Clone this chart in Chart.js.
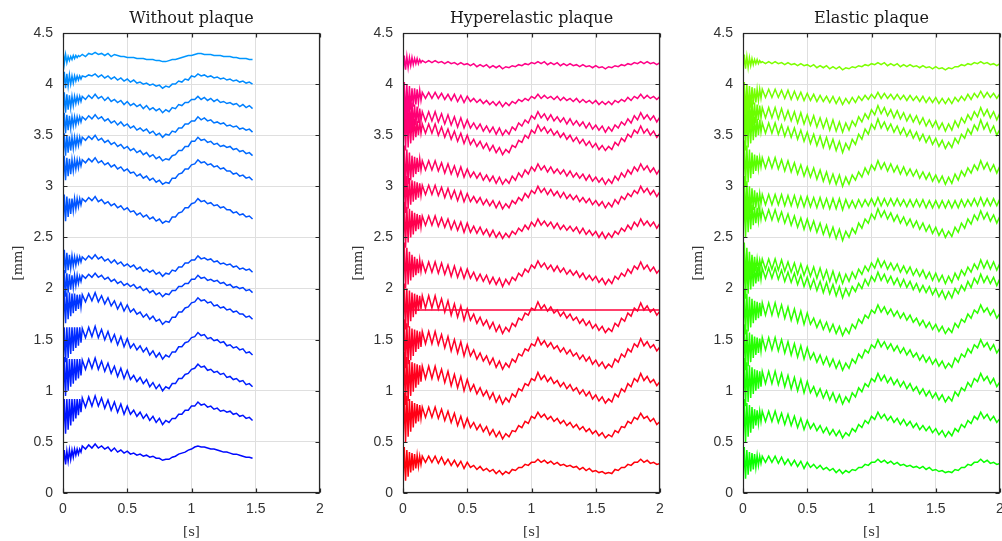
<!DOCTYPE html>
<html><head><meta charset="utf-8">
<script src="https://cdn.jsdelivr.net/npm/chart.js@4.4.1/dist/chart.umd.min.js"></script>
<style>
html,body{margin:0;padding:0;background:#fff;overflow:hidden;width:1002px;height:541px;}
canvas{position:absolute;top:0;}
</style></head><body>
<canvas id="c1" width="340" height="541" style="left:0px"></canvas>
<canvas id="c2" width="340" height="541" style="left:340px"></canvas>
<canvas id="c3" width="340" height="541" style="left:680px"></canvas>
<script>
// ---- data ----
const TIMES = [0,0.01,0.02,0.03,0.04,0.05,0.06,0.07,0.08,0.09,0.1,0.11,0.12,0.13,0.14,0.15,0.175,0.2,0.225,0.25,0.275,0.3,0.325,0.35,0.375,0.4,0.425,0.45,0.475,0.5,0.525,0.55,0.575,0.6,0.625,0.65,0.675,0.7,0.725,0.75,0.775,0.8,0.825,0.85,0.875,0.9,0.925,0.95,0.975,1,1.025,1.05,1.075,1.1,1.125,1.15,1.175,1.2,1.225,1.25,1.275,1.3,1.325,1.35,1.375,1.4,1.425,1.45,1.475,1.5,1.525,1.55,1.575,1.6,1.625,1.65,1.675,1.7,1.725,1.75,1.775,1.8,1.825,1.85,1.875,1.9,1.925,1.95,1.975,2];
const FLAT_T = [0.02, 2];
const X_TICKS = [0,0.5,1,1.5,2];
const X_TICK_LABELS = ['0','0.5','1','1.5','2'];
const Y_TICKS = [0,0.5,1,1.5,2,2.5,3,3.5,4,4.5];
const Y_TICK_LABELS = ['0','0.5','1','1.5','2','2.5','3','3.5','4','4.5'];
const TITLES = ['Without plaque','Hyperelastic plaque','Elastic plaque'];
const X_LABEL = '[s]';
const Y_LABEL = '[mm]';

// Without plaque (blue), top to bottom
const blue01 = [4.34,4.20,4.29,4.21,4.27,4.23,4.27,4.24,4.28,4.25,4.28,4.26,4.28,4.27,4.28, 4.29,4.27,4.30,4.29,4.31, 4.29,4.30,4.28,4.30,4.27,4.29,4.28,4.27,4.27,4.26,4.26,4.26,4.25,4.25,4.25,4.24,4.24,4.24,4.23,4.23,4.22,4.22, 4.23,4.24,4.24,4.25,4.26,4.27,4.28,4.28,4.29,4.30, 4.30,4.29,4.29,4.29,4.28,4.28,4.28,4.27,4.27,4.27,4.26,4.26,4.25,4.25,4.25,4.24,4.24];
const blue02 = [3.95,4.12,3.96,4.10,3.98,4.09,4.00,4.08,4.01,4.08,4.03,4.08,4.04,4.08,4.05, 4.08,4.07,4.09,4.08,4.10, 4.07,4.09,4.06,4.08,4.05,4.07,4.04,4.06,4.03,4.05,4.02,4.04,4.01,4.02,4.00,4.01,3.99,4.00,3.98,3.99,3.96,3.98, 3.97,4.00,4.00,4.03,4.02,4.05,4.04,4.08,4.07,4.10, 4.08,4.09,4.07,4.08,4.06,4.07,4.05,4.06,4.04,4.05,4.03,4.04,4.02,4.03,4.01,4.02,4.00];
const blue03 = [3.70,3.92,3.72,3.90,3.75,3.89,3.77,3.88,3.79,3.88,3.81,3.88,3.82,3.88,3.83, 3.88,3.85,3.89,3.86,3.90, 3.86,3.88,3.84,3.87,3.83,3.85,3.82,3.84,3.80,3.83,3.79,3.81,3.78,3.80,3.76,3.79,3.75,3.77,3.74,3.76,3.72,3.75, 3.73,3.77,3.76,3.80,3.79,3.82,3.82,3.85,3.85,3.88, 3.85,3.87,3.84,3.86,3.83,3.85,3.82,3.83,3.81,3.82,3.80,3.81,3.78,3.80,3.77,3.79,3.76];
const blue04 = [3.50,3.72,3.52,3.70,3.55,3.69,3.57,3.68,3.59,3.68,3.60,3.68,3.62,3.68,3.63, 3.68,3.65,3.69,3.66,3.70, 3.66,3.68,3.64,3.66,3.62,3.64,3.60,3.63,3.59,3.61,3.57,3.59,3.55,3.57,3.54,3.56,3.52,3.54,3.50,3.52,3.48,3.51, 3.50,3.54,3.53,3.57,3.57,3.61,3.61,3.64,3.64,3.68, 3.65,3.67,3.64,3.65,3.62,3.63,3.61,3.62,3.59,3.60,3.58,3.59,3.56,3.57,3.55,3.56,3.53];
const blue05 = [3.28,3.52,3.30,3.50,3.33,3.49,3.35,3.48,3.37,3.48,3.39,3.48,3.40,3.48,3.42, 3.48,3.45,3.49,3.46,3.50, 3.45,3.47,3.43,3.45,3.41,3.43,3.39,3.41,3.37,3.39,3.35,3.37,3.33,3.35,3.31,3.33,3.29,3.31,3.27,3.29,3.25,3.27, 3.26,3.30,3.31,3.35,3.35,3.39,3.39,3.44,3.44,3.48, 3.45,3.46,3.43,3.44,3.41,3.42,3.39,3.40,3.38,3.39,3.36,3.37,3.34,3.35,3.32,3.33,3.30];
const blue06 = [3.02,3.30,3.06,3.28,3.10,3.27,3.12,3.26,3.15,3.26,3.17,3.26,3.18,3.26,3.20, 3.26,3.23,3.27,3.24,3.28, 3.23,3.25,3.21,3.23,3.19,3.21,3.17,3.19,3.15,3.17,3.13,3.14,3.10,3.12,3.08,3.10,3.06,3.08,3.04,3.06,3.02,3.04, 3.03,3.08,3.08,3.12,3.13,3.17,3.17,3.21,3.22,3.26, 3.23,3.24,3.21,3.22,3.19,3.20,3.17,3.18,3.15,3.15,3.12,3.13,3.10,3.11,3.08,3.09,3.06];
const blue07 = [2.62,2.92,2.66,2.90,2.70,2.88,2.73,2.88,2.76,2.88,2.78,2.88,2.80,2.88,2.82, 2.88,2.85,2.89,2.86,2.90, 2.85,2.87,2.83,2.85,2.81,2.83,2.79,2.81,2.77,2.79,2.75,2.76,2.72,2.74,2.70,2.72,2.68,2.70,2.66,2.68,2.64,2.66, 2.65,2.70,2.70,2.74,2.75,2.79,2.79,2.83,2.84,2.88, 2.85,2.86,2.83,2.84,2.81,2.82,2.79,2.80,2.77,2.77,2.74,2.75,2.72,2.73,2.70,2.71,2.68];
const blue08 = [2.12,2.38,2.15,2.35,2.18,2.33,2.20,2.32,2.22,2.31,2.23,2.31,2.25,2.31,2.26, 2.31,2.28,2.32,2.29,2.33, 2.29,2.31,2.27,2.29,2.25,2.28,2.24,2.26,2.22,2.24,2.21,2.23,2.19,2.21,2.17,2.19,2.16,2.18,2.14,2.16,2.12,2.15, 2.14,2.18,2.17,2.21,2.21,2.25,2.25,2.28,2.28,2.32, 2.29,2.30,2.28,2.29,2.26,2.27,2.24,2.25,2.23,2.24,2.21,2.22,2.19,2.20,2.18,2.19,2.16];
const blue09 = [1.88,2.18,1.92,2.15,1.96,2.14,1.99,2.13,2.01,2.13,2.03,2.13,2.05,2.12,2.07, 2.13,2.10,2.14,2.11,2.15, 2.11,2.13,2.09,2.11,2.07,2.09,2.05,2.07,2.03,2.05,2.02,2.04,2.00,2.02,1.98,2.00,1.96,1.98,1.94,1.96,1.92,1.95, 1.94,1.98,1.98,2.02,2.02,2.05,2.05,2.09,2.09,2.13, 2.10,2.11,2.08,2.09,2.07,2.08,2.05,2.06,2.03,2.04,2.01,2.02,2.00,2.01,1.98,1.99,1.96];
const blue10 = [1.62,1.98,1.66,1.96,1.70,1.96,1.73,1.95,1.76,1.95,1.78,1.94,1.80,1.94,1.82, 1.94,1.87,1.95,1.88,1.96, 1.87,1.93,1.85,1.91,1.83,1.88,1.80,1.86,1.78,1.84,1.77,1.80,1.75,1.77,1.72,1.75,1.70,1.73,1.68,1.70,1.65,1.68, 1.67,1.72,1.72,1.77,1.77,1.81,1.82,1.86,1.87,1.91, 1.88,1.89,1.86,1.87,1.83,1.84,1.81,1.82,1.79,1.80,1.77,1.78,1.75,1.75,1.72,1.73,1.70];
const blue11 = [1.22,1.62,1.28,1.62,1.32,1.62,1.36,1.62,1.39,1.62,1.42,1.62,1.44,1.62,1.47, 1.61,1.52,1.62,1.53,1.63, 1.52,1.60,1.50,1.58,1.48,1.55,1.45,1.53,1.43,1.51,1.42,1.46,1.40,1.44,1.38,1.42,1.35,1.39,1.33,1.37,1.31,1.35, 1.33,1.38,1.38,1.43,1.43,1.47,1.48,1.52,1.53,1.57, 1.54,1.55,1.51,1.52,1.49,1.50,1.47,1.48,1.44,1.45,1.42,1.43,1.40,1.41,1.37,1.38,1.35];
const blue12 = [0.88,1.33,0.95,1.32,1.00,1.31,1.04,1.31,1.07,1.31,1.10,1.31,1.12,1.31,1.15, 1.30,1.21,1.31,1.22,1.32, 1.21,1.29,1.19,1.27,1.17,1.24,1.14,1.22,1.12,1.20,1.11,1.15,1.09,1.13,1.07,1.11,1.04,1.08,1.02,1.06,1.00,1.04, 1.02,1.07,1.07,1.12,1.12,1.16,1.17,1.21,1.22,1.26, 1.23,1.24,1.20,1.21,1.18,1.19,1.16,1.17,1.13,1.14,1.11,1.12,1.09,1.10,1.06,1.07,1.04];
const blue13 = [0.55,0.92,0.58,0.92,0.62,0.92,0.66,0.92,0.70,0.92,0.73,0.92,0.76,0.92,0.79, 0.93,0.84,0.94,0.85,0.95, 0.85,0.93,0.83,0.91,0.81,0.89,0.79,0.87,0.77,0.85,0.77,0.81,0.75,0.79,0.73,0.77,0.71,0.75,0.69,0.73,0.67,0.71, 0.69,0.73,0.73,0.77,0.77,0.81,0.81,0.85,0.85,0.89, 0.86,0.87,0.84,0.85,0.82,0.83,0.80,0.81,0.79,0.80,0.77,0.78,0.75,0.76,0.73,0.74,0.71];
const blue14 = [0.26,0.42,0.28,0.41,0.31,0.42,0.33,0.42,0.35,0.43,0.37,0.43,0.38,0.43,0.40, 0.46,0.43,0.47,0.44,0.48, 0.44,0.46,0.43,0.45,0.41,0.44,0.40,0.42,0.39,0.41,0.38,0.39,0.37,0.38,0.36,0.37,0.35,0.36,0.34,0.34,0.32,0.33, 0.33,0.35,0.36,0.38,0.39,0.40,0.42,0.43,0.45,0.46, 0.45,0.45,0.44,0.43,0.43,0.42,0.41,0.40,0.40,0.39,0.38,0.38,0.37,0.36,0.35,0.35,0.34];

// Hyperelastic plaque (pink to red), top to bottom
const red01 = [4.10,4.28,4.14,4.27,4.16,4.26,4.18,4.26,4.19,4.25,4.20,4.25,4.20,4.24,4.21, 4.23,4.21,4.23,4.21,4.23, 4.21,4.22,4.20,4.22,4.20,4.21,4.19,4.21,4.19,4.20,4.18,4.20,4.17,4.19,4.17,4.19,4.16,4.18,4.16,4.18,4.15,4.17, 4.16,4.18,4.17,4.19,4.18,4.20,4.19,4.21,4.20,4.22, 4.20,4.22,4.19,4.21,4.19,4.21,4.18,4.20,4.18,4.20,4.18,4.19,4.17,4.19,4.17,4.18,4.16,4.18,4.16,4.17,4.15,4.17, 4.16,4.18,4.17,4.19,4.18,4.20,4.19,4.21,4.20,4.22, 4.20,4.22,4.20,4.21,4.19,4.21];
const red02 = [3.70,4.02,3.66,4.00,3.72,3.98,3.75,3.96,3.78,3.96,3.80,3.95,3.82,3.94,3.84, 3.92,3.86,3.92,3.86,3.92, 3.86,3.91,3.85,3.90,3.84,3.90,3.83,3.89,3.82,3.88,3.83,3.86,3.82,3.85,3.81,3.84,3.80,3.83,3.79,3.83,3.78,3.82, 3.79,3.83,3.81,3.85,3.83,3.86,3.84,3.88,3.86,3.90, 3.86,3.89,3.86,3.88,3.85,3.88,3.84,3.87,3.84,3.86,3.83,3.86,3.82,3.85,3.82,3.84,3.81,3.84,3.80,3.83,3.80,3.83, 3.80,3.84,3.82,3.85,3.83,3.87,3.84,3.88,3.86,3.90, 3.86,3.89,3.86,3.88,3.85,3.88];
const red03 = [3.45,3.95,3.50,3.90,3.48,3.85,3.55,3.82,3.58,3.80,3.60,3.78,3.62,3.76,3.64, 3.73,3.64,3.73,3.64,3.73, 3.63,3.71,3.61,3.70,3.60,3.68,3.58,3.67,3.57,3.65,3.57,3.62,3.56,3.61,3.54,3.59,3.53,3.58,3.51,3.57,3.50,3.55, 3.51,3.58,3.55,3.62,3.59,3.65,3.62,3.69,3.66,3.73, 3.67,3.71,3.65,3.70,3.64,3.68,3.63,3.67,3.61,3.66,3.60,3.64,3.59,3.63,3.57,3.62,3.56,3.60,3.55,3.59,3.53,3.58, 3.54,3.60,3.57,3.63,3.60,3.66,3.62,3.69,3.65,3.72, 3.66,3.70,3.65,3.69,3.63,3.68];
const red04 = [3.30,3.80,3.35,3.75,3.38,3.70,3.42,3.68,3.45,3.66,3.48,3.64,3.50,3.63,3.52, 3.61,3.52,3.61,3.52,3.61, 3.50,3.58,3.48,3.56,3.46,3.54,3.44,3.52,3.42,3.50,3.41,3.46,3.39,3.44,3.37,3.42,3.35,3.40,3.33,3.38,3.31,3.36, 3.33,3.40,3.38,3.45,3.43,3.50,3.47,3.55,3.52,3.60, 3.54,3.58,3.52,3.56,3.50,3.54,3.48,3.52,3.46,3.50,3.44,3.48,3.42,3.46,3.40,3.44,3.38,3.42,3.36,3.40,3.35,3.39, 3.36,3.43,3.40,3.47,3.44,3.51,3.48,3.55,3.52,3.59, 3.52,3.56,3.50,3.54,3.48,3.52];
const red05 = [2.92,3.40,2.98,3.36,3.02,3.33,3.06,3.30,3.09,3.29,3.12,3.28,3.14,3.27,3.16, 3.25,3.16,3.25,3.16,3.25, 3.15,3.23,3.13,3.22,3.12,3.20,3.10,3.19,3.09,3.17,3.09,3.14,3.08,3.13,3.06,3.11,3.05,3.10,3.03,3.09,3.02,3.07, 3.03,3.10,3.06,3.13,3.09,3.16,3.12,3.19,3.15,3.22, 3.16,3.20,3.14,3.19,3.13,3.17,3.12,3.16,3.10,3.15,3.09,3.13,3.08,3.12,3.06,3.11,3.05,3.09,3.04,3.08,3.02,3.07, 3.03,3.10,3.06,3.13,3.09,3.16,3.12,3.19,3.15,3.22, 3.16,3.20,3.14,3.18,3.12,3.17];
const red06 = [2.70,3.15,2.74,3.10,2.78,3.08,2.82,3.06,2.85,3.05,2.87,3.04,2.89,3.03,2.91, 3.01,2.92,3.01,2.92,3.01, 2.91,2.99,2.89,2.98,2.88,2.96,2.86,2.95,2.85,2.93,2.85,2.90,2.84,2.89,2.82,2.87,2.81,2.86,2.79,2.85,2.78,2.83, 2.79,2.86,2.83,2.89,2.86,2.93,2.89,2.96,2.93,3.00, 2.94,2.98,2.92,2.97,2.91,2.95,2.89,2.94,2.88,2.92,2.87,2.91,2.85,2.89,2.84,2.88,2.82,2.86,2.81,2.85,2.79,2.84, 2.80,2.87,2.83,2.90,2.87,2.93,2.90,2.96,2.93,3.00, 2.94,2.98,2.92,2.96,2.90,2.95];
const red07 = [2.35,2.85,2.40,2.80,2.45,2.78,2.50,2.76,2.53,2.74,2.56,2.73,2.58,2.72,2.60, 2.71,2.62,2.71,2.62,2.71, 2.61,2.69,2.60,2.68,2.58,2.66,2.57,2.65,2.55,2.64,2.55,2.61,2.54,2.60,2.53,2.58,2.51,2.57,2.50,2.55,2.49,2.54, 2.50,2.56,2.53,2.59,2.56,2.62,2.58,2.65,2.61,2.68, 2.62,2.66,2.61,2.65,2.59,2.64,2.58,2.62,2.57,2.61,2.56,2.60,2.54,2.59,2.53,2.57,2.52,2.56,2.50,2.55,2.49,2.54, 2.50,2.56,2.53,2.59,2.56,2.62,2.58,2.65,2.61,2.68, 2.62,2.66,2.61,2.65,2.59,2.64];
const red08 = [1.95,2.45,2.00,2.40,2.04,2.36,2.08,2.33,2.11,2.31,2.13,2.29,2.15,2.28,2.17, 2.26,2.16,2.26,2.16,2.26, 2.15,2.25,2.14,2.23,2.12,2.22,2.11,2.20,2.10,2.19,2.10,2.16,2.08,2.14,2.07,2.13,2.05,2.11,2.04,2.10,2.02,2.09, 2.04,2.11,2.08,2.15,2.12,2.19,2.16,2.23,2.20,2.27, 2.21,2.25,2.19,2.23,2.17,2.22,2.16,2.20,2.14,2.18,2.13,2.17,2.11,2.15,2.09,2.13,2.08,2.12,2.06,2.10,2.04,2.09, 2.05,2.12,2.09,2.15,2.12,2.19,2.15,2.22,2.19,2.26, 2.19,2.23,2.17,2.21,2.15,2.19];
const red09 = [1.79,1.79];
const red10 = [1.55,2.05,1.60,2.00,1.62,1.98,1.68,1.96,1.72,1.95,1.75,1.94,1.78,1.93,1.80, 1.93,1.81,1.93,1.81,1.93, 1.80,1.90,1.77,1.88,1.74,1.85,1.72,1.83,1.69,1.80,1.69,1.75,1.66,1.72,1.64,1.69,1.61,1.67,1.58,1.64,1.56,1.62, 1.58,1.66,1.63,1.71,1.69,1.76,1.74,1.81,1.79,1.87, 1.80,1.84,1.78,1.82,1.76,1.79,1.73,1.77,1.71,1.75,1.69,1.72,1.66,1.70,1.64,1.68,1.61,1.65,1.59,1.63,1.57,1.61, 1.58,1.66,1.63,1.71,1.68,1.76,1.73,1.81,1.78,1.86, 1.79,1.83,1.77,1.80,1.74,1.78];
const red11 = [1.15,1.70,1.22,1.66,1.26,1.63,1.30,1.61,1.34,1.60,1.38,1.59,1.41,1.58,1.43, 1.58,1.46,1.58,1.46,1.58, 1.45,1.55,1.42,1.53,1.39,1.50,1.37,1.48,1.34,1.45,1.34,1.40,1.31,1.37,1.29,1.34,1.26,1.32,1.23,1.29,1.21,1.27, 1.23,1.31,1.28,1.36,1.34,1.41,1.39,1.46,1.44,1.52, 1.45,1.49,1.43,1.47,1.41,1.44,1.38,1.42,1.36,1.40,1.34,1.37,1.31,1.35,1.29,1.33,1.26,1.30,1.24,1.28,1.22,1.26, 1.23,1.31,1.28,1.36,1.33,1.41,1.38,1.46,1.43,1.51, 1.44,1.48,1.42,1.45,1.39,1.43];
const red12 = [0.80,1.38,0.86,1.33,0.90,1.30,0.95,1.28,0.99,1.27,1.03,1.26,1.06,1.25,1.09, 1.24,1.12,1.24,1.12,1.24, 1.11,1.21,1.08,1.19,1.05,1.16,1.03,1.14,1.00,1.11,1.00,1.06,0.97,1.03,0.95,1.00,0.92,0.98,0.89,0.95,0.87,0.93, 0.89,0.97,0.94,1.02,1.00,1.07,1.05,1.12,1.10,1.18, 1.11,1.15,1.09,1.13,1.07,1.10,1.04,1.08,1.02,1.06,1.00,1.03,0.97,1.01,0.95,0.99,0.92,0.96,0.90,0.94,0.88,0.92, 0.89,0.97,0.94,1.02,0.99,1.07,1.04,1.12,1.09,1.17, 1.10,1.14,1.08,1.11,1.05,1.09];
const red13 = [0.45,0.98,0.50,0.95,0.55,0.92,0.60,0.90,0.64,0.88,0.68,0.87,0.70,0.86,0.73, 0.84,0.74,0.84,0.74,0.84, 0.73,0.82,0.71,0.80,0.69,0.78,0.66,0.75,0.64,0.73,0.64,0.69,0.62,0.67,0.60,0.65,0.57,0.62,0.55,0.60,0.53,0.58, 0.55,0.61,0.60,0.66,0.64,0.70,0.68,0.75,0.73,0.79, 0.74,0.77,0.72,0.75,0.70,0.73,0.68,0.71,0.66,0.69,0.64,0.67,0.62,0.65,0.60,0.63,0.58,0.61,0.56,0.59,0.54,0.57, 0.55,0.61,0.59,0.65,0.64,0.70,0.68,0.74,0.72,0.78, 0.73,0.75,0.70,0.73,0.67,0.70];
const red14 = [0.08,0.45,0.12,0.42,0.16,0.40,0.20,0.39,0.22,0.38,0.24,0.37,0.26,0.36,0.28, 0.36,0.30,0.36,0.30,0.36, 0.29,0.35,0.28,0.33,0.27,0.32,0.26,0.31,0.24,0.30,0.25,0.27,0.23,0.26,0.22,0.24,0.21,0.23,0.19,0.22,0.18,0.21, 0.19,0.23,0.22,0.25,0.25,0.28,0.27,0.30,0.30,0.33, 0.30,0.32,0.29,0.31,0.28,0.30,0.27,0.28,0.26,0.27,0.25,0.26,0.23,0.25,0.22,0.24,0.21,0.22,0.20,0.21,0.19,0.20, 0.19,0.23,0.22,0.25,0.25,0.28,0.27,0.30,0.30,0.33, 0.30,0.32,0.29,0.30,0.28,0.29];

// Elastic plaque (yellow-green to green), top to bottom
const green01 = [4.12,4.29,4.15,4.27,4.16,4.26,4.18,4.25,4.19,4.24,4.20,4.24,4.20,4.23,4.21, 4.22,4.20,4.22,4.20,4.22, 4.20,4.21,4.19,4.21,4.19,4.20,4.18,4.20,4.18,4.19,4.17,4.19,4.16,4.18,4.16,4.18,4.15,4.17,4.15,4.17,4.14,4.16, 4.15,4.17,4.16,4.18,4.17,4.19,4.18,4.20,4.19,4.21, 4.19,4.21,4.18,4.20,4.18,4.20,4.17,4.19,4.17,4.19,4.17,4.18,4.16,4.18,4.16,4.17,4.15,4.17,4.15,4.16,4.14,4.16, 4.15,4.17,4.17,4.19,4.18,4.20,4.19,4.21,4.20,4.22, 4.20,4.21,4.19,4.20,4.18,4.20];
const green02 = [3.65,4.02,3.70,4.00,3.74,3.98,3.77,3.97,3.80,3.96,3.82,3.95,3.84,3.95,3.86, 3.95,3.87,3.95,3.87,3.95, 3.87,3.94,3.86,3.94,3.85,3.93,3.85,3.92,3.84,3.91,3.84,3.90,3.83,3.89,3.83,3.88,3.82,3.88,3.81,3.87,3.80,3.86, 3.81,3.87,3.82,3.88,3.84,3.89,3.85,3.90,3.86,3.92, 3.86,3.91,3.86,3.90,3.85,3.90,3.85,3.89,3.84,3.89,3.84,3.88,3.83,3.88,3.82,3.87,3.82,3.87,3.81,3.86,3.81,3.86, 3.81,3.87,3.83,3.88,3.84,3.90,3.85,3.91,3.87,3.93, 3.87,3.92,3.87,3.91,3.86,3.91];
const green03 = [3.45,3.95,3.50,3.92,3.52,3.88,3.56,3.85,3.60,3.82,3.62,3.80,3.65,3.79,3.67, 3.77,3.67,3.77,3.67,3.77, 3.66,3.76,3.65,3.74,3.64,3.73,3.62,3.72,3.61,3.70,3.60,3.69,3.58,3.67,3.57,3.66,3.55,3.65,3.54,3.63,3.53,3.62, 3.55,3.64,3.59,3.68,3.63,3.71,3.66,3.75,3.70,3.79, 3.71,3.77,3.69,3.75,3.67,3.74,3.66,3.72,3.64,3.70,3.63,3.69,3.61,3.67,3.59,3.65,3.58,3.64,3.56,3.62,3.54,3.61, 3.55,3.64,3.58,3.67,3.62,3.70,3.65,3.73,3.68,3.77, 3.69,3.75,3.67,3.73,3.65,3.72];
const green04 = [3.30,3.80,3.35,3.75,3.38,3.72,3.42,3.70,3.45,3.68,3.48,3.66,3.50,3.65,3.53, 3.62,3.52,3.62,3.52,3.62, 3.51,3.60,3.49,3.58,3.48,3.57,3.46,3.55,3.44,3.53,3.42,3.51,3.40,3.49,3.38,3.48,3.37,3.46,3.35,3.44,3.33,3.42, 3.36,3.46,3.41,3.51,3.46,3.56,3.51,3.61,3.56,3.66, 3.57,3.63,3.55,3.61,3.53,3.59,3.51,3.57,3.49,3.55,3.47,3.53,3.45,3.51,3.43,3.49,3.41,3.47,3.39,3.45,3.37,3.43, 3.38,3.47,3.42,3.51,3.47,3.56,3.51,3.60,3.55,3.65, 3.56,3.62,3.53,3.59,3.50,3.56];
const green05 = [2.95,3.45,3.00,3.40,3.04,3.36,3.08,3.33,3.12,3.31,3.15,3.30,3.17,3.28,3.19, 3.28,3.18,3.28,3.18,3.28, 3.17,3.26,3.15,3.25,3.14,3.23,3.12,3.21,3.10,3.19,3.09,3.18,3.07,3.16,3.05,3.14,3.03,3.12,3.02,3.11,3.00,3.09, 3.02,3.11,3.06,3.14,3.09,3.18,3.12,3.21,3.16,3.25, 3.17,3.23,3.15,3.22,3.14,3.20,3.12,3.19,3.11,3.17,3.10,3.16,3.08,3.14,3.07,3.13,3.05,3.11,3.04,3.10,3.02,3.09, 3.03,3.12,3.06,3.15,3.10,3.18,3.13,3.21,3.16,3.25, 3.17,3.23,3.15,3.21,3.13,3.20];
const green06 = [2.60,3.10,2.65,3.05,2.70,3.00,2.74,2.98,2.77,2.96,2.79,2.94,2.81,2.93,2.83, 2.92,2.82,2.92,2.82,2.92, 2.82,2.92,2.81,2.91,2.81,2.91,2.80,2.90,2.80,2.90,2.80,2.89,2.79,2.89,2.79,2.88,2.78,2.88,2.78,2.88,2.77,2.87, 2.79,2.86,2.79,2.87,2.80,2.87,2.81,2.88,2.81,2.89, 2.81,2.88,2.81,2.88,2.81,2.88,2.81,2.87,2.80,2.87,2.80,2.87,2.80,2.87,2.79,2.86,2.79,2.86,2.79,2.86,2.79,2.86, 2.79,2.86,2.79,2.87,2.80,2.87,2.81,2.88,2.81,2.89, 2.81,2.88,2.81,2.88,2.81,2.88];
const green07 = [2.45,2.95,2.50,2.90,2.55,2.85,2.58,2.82,2.62,2.80,2.64,2.79,2.66,2.78,2.68, 2.77,2.67,2.77,2.67,2.77, 2.66,2.75,2.64,2.73,2.62,2.71,2.60,2.69,2.58,2.68,2.57,2.66,2.55,2.64,2.53,2.62,2.51,2.60,2.49,2.58,2.47,2.56, 2.50,2.59,2.54,2.64,2.59,2.68,2.64,2.73,2.68,2.78, 2.70,2.76,2.68,2.74,2.66,2.72,2.64,2.70,2.62,2.68,2.60,2.66,2.58,2.64,2.56,2.62,2.54,2.60,2.52,2.58,2.50,2.56, 2.51,2.60,2.55,2.64,2.59,2.68,2.63,2.72,2.67,2.76, 2.68,2.74,2.66,2.72,2.64,2.71];
const green08 = [2.00,2.45,2.05,2.40,2.08,2.36,2.12,2.33,2.15,2.31,2.17,2.29,2.19,2.28,2.21, 2.29,2.19,2.29,2.19,2.29, 2.18,2.28,2.17,2.26,2.16,2.25,2.14,2.24,2.13,2.22,2.12,2.21,2.10,2.20,2.09,2.18,2.07,2.17,2.06,2.15,2.05,2.14, 2.07,2.16,2.10,2.19,2.14,2.22,2.17,2.25,2.20,2.29, 2.21,2.27,2.19,2.25,2.18,2.24,2.16,2.22,2.15,2.21,2.13,2.19,2.12,2.18,2.10,2.16,2.08,2.15,2.07,2.13,2.05,2.12, 2.06,2.15,2.09,2.18,2.13,2.21,2.16,2.24,2.19,2.28, 2.20,2.27,2.19,2.26,2.18,2.25];
const green09 = [1.85,2.35,1.90,2.30,1.95,2.27,1.99,2.24,2.02,2.22,2.05,2.21,2.07,2.20,2.09, 2.20,2.10,2.20,2.10,2.20, 2.09,2.18,2.07,2.16,2.06,2.15,2.04,2.13,2.02,2.11,2.00,2.09,1.98,2.07,1.96,2.06,1.95,2.04,1.93,2.02,1.91,2.00, 1.93,2.02,1.97,2.05,2.00,2.09,2.03,2.12,2.07,2.16, 2.08,2.14,2.06,2.12,2.04,2.10,2.02,2.09,2.01,2.07,1.99,2.05,1.97,2.03,1.96,2.02,1.94,2.00,1.92,1.98,1.90,1.97, 1.91,2.00,1.95,2.03,1.98,2.07,2.01,2.10,2.05,2.14, 2.06,2.12,2.05,2.11,2.03,2.10];
const green10 = [1.50,2.00,1.55,1.95,1.58,1.92,1.62,1.90,1.66,1.88,1.69,1.87,1.71,1.86,1.73, 1.86,1.74,1.86,1.74,1.86, 1.73,1.84,1.71,1.82,1.69,1.80,1.67,1.78,1.65,1.76,1.65,1.71,1.62,1.69,1.60,1.67,1.58,1.65,1.56,1.63,1.54,1.61, 1.56,1.65,1.61,1.70,1.66,1.74,1.71,1.79,1.76,1.84, 1.77,1.82,1.75,1.80,1.73,1.78,1.71,1.76,1.69,1.74,1.67,1.71,1.64,1.69,1.62,1.67,1.60,1.65,1.58,1.63,1.56,1.61, 1.57,1.66,1.62,1.70,1.67,1.75,1.71,1.79,1.76,1.84, 1.77,1.81,1.74,1.79,1.71,1.76];
const green11 = [1.15,1.65,1.20,1.60,1.24,1.57,1.28,1.55,1.32,1.53,1.35,1.52,1.37,1.51,1.39, 1.52,1.40,1.52,1.40,1.52, 1.39,1.50,1.37,1.48,1.35,1.46,1.33,1.44,1.31,1.42,1.31,1.37,1.28,1.35,1.26,1.33,1.24,1.31,1.22,1.29,1.20,1.27, 1.22,1.31,1.27,1.36,1.32,1.40,1.37,1.45,1.42,1.50, 1.43,1.48,1.41,1.46,1.39,1.44,1.37,1.42,1.35,1.40,1.33,1.37,1.30,1.35,1.28,1.33,1.26,1.31,1.24,1.29,1.22,1.27, 1.23,1.32,1.28,1.36,1.33,1.41,1.37,1.45,1.42,1.50, 1.43,1.47,1.40,1.45,1.37,1.42];
const green12 = [0.80,1.32,0.85,1.28,0.89,1.25,0.93,1.23,0.97,1.21,1.00,1.20,1.02,1.19,1.04, 1.19,1.07,1.19,1.07,1.19, 1.06,1.17,1.04,1.15,1.02,1.13,1.00,1.11,0.98,1.09,0.98,1.04,0.95,1.02,0.93,1.00,0.91,0.98,0.89,0.96,0.87,0.94, 0.89,0.98,0.94,1.03,0.99,1.07,1.04,1.12,1.09,1.17, 1.10,1.15,1.08,1.13,1.06,1.11,1.04,1.09,1.02,1.07,1.00,1.04,0.97,1.02,0.95,1.00,0.93,0.98,0.91,0.96,0.89,0.94, 0.90,0.99,0.95,1.03,1.00,1.08,1.04,1.12,1.09,1.17, 1.10,1.14,1.07,1.12,1.04,1.09];
const green13 = [0.45,0.92,0.50,0.88,0.55,0.86,0.59,0.84,0.63,0.82,0.66,0.81,0.68,0.80,0.70, 0.80,0.70,0.80,0.70,0.80, 0.69,0.78,0.67,0.77,0.66,0.75,0.64,0.73,0.62,0.71,0.63,0.68,0.61,0.66,0.59,0.64,0.57,0.62,0.56,0.61,0.54,0.59, 0.56,0.63,0.60,0.67,0.64,0.71,0.68,0.75,0.72,0.79, 0.73,0.77,0.71,0.75,0.69,0.73,0.67,0.72,0.66,0.70,0.64,0.68,0.62,0.66,0.61,0.65,0.59,0.63,0.57,0.61,0.55,0.60, 0.56,0.63,0.60,0.67,0.64,0.71,0.68,0.75,0.72,0.79, 0.73,0.77,0.71,0.75,0.69,0.73];
const green14 = [0.10,0.45,0.14,0.42,0.18,0.40,0.21,0.39,0.23,0.38,0.25,0.37,0.27,0.36,0.29, 0.36,0.30,0.36,0.30,0.36, 0.29,0.35,0.28,0.33,0.27,0.32,0.26,0.31,0.24,0.30,0.25,0.28,0.24,0.27,0.23,0.25,0.22,0.24,0.20,0.23,0.19,0.22, 0.20,0.23,0.22,0.25,0.25,0.28,0.27,0.30,0.30,0.33, 0.30,0.32,0.29,0.31,0.28,0.30,0.27,0.28,0.26,0.27,0.25,0.26,0.24,0.26,0.23,0.25,0.22,0.23,0.21,0.22,0.20,0.21, 0.20,0.23,0.22,0.25,0.25,0.28,0.27,0.30,0.30,0.33, 0.30,0.32,0.29,0.30,0.28,0.29];

// ---- chart construction ----
const BLUE = [blue01,blue02,blue03,blue04,blue05,blue06,blue07,blue08,blue09,blue10,blue11,blue12,blue13,blue14];
const RED = [red01,red02,red03,red04,red05,red06,red07,red08,red09,red10,red11,red12,red13,red14];
const GREEN = [green01,green02,green03,green04,green05,green06,green07,green08,green09,green10,green11,green12,green13,green14];

const PANELS = [
  {id:'c1', title:TITLES[0], lines:BLUE,  color:(k)=>`rgb(0,${Math.round(150-140*k)},255)`},
  {id:'c2', title:TITLES[1], lines:RED,   color:(k)=>`rgb(255,0,${Math.round(135-125*k)})`},
  {id:'c3', title:TITLES[2], lines:GREEN, color:(k)=>`rgb(${Math.round(125-115*k)},255,0)`}
];

const framePlugin = {
  id:'frame',
  afterDraw(chart){
    const {ctx, chartArea:a, scales:{x,y}} = chart;
    ctx.save();
    ctx.strokeStyle = '#262626';
    ctx.lineWidth = 1.2;
    const L = Math.round(a.left)+0.5, R = Math.round(a.right)-0.5, T = Math.round(a.top)+0.5, B = Math.round(a.bottom)-0.5;
    ctx.strokeRect(L, T, R-L, B-T);
    ctx.beginPath();
    x.ticks.forEach(t=>{ const p = Math.round(x.getPixelForValue(t.value))+0.5; ctx.moveTo(p,B); ctx.lineTo(p,B-4); ctx.moveTo(p,T); ctx.lineTo(p,T+4); });
    y.ticks.forEach(t=>{ const p = Math.round(y.getPixelForValue(t.value))+0.5; ctx.moveTo(L,p); ctx.lineTo(L+4,p); ctx.moveTo(R,p); ctx.lineTo(R-4,p); });
    ctx.stroke();
    ctx.restore();
  }
};

const tickFont = {family:'Liberation Sans', size:14};
PANELS.forEach(P=>{
  const n = P.lines.length;
  const datasets = P.lines.map((vals,i)=>{
    const t = vals.length === 2 ? FLAT_T : TIMES;
    const pts = [];
    for (let j=0;j<vals.length && j<t.length;j++) pts.push({x:t[j], y:vals[j]});
    return {data:pts, borderColor:P.color(i/(n-1)), borderWidth:1.5, pointRadius:0, fill:false, tension:0};
  });
  new Chart(document.getElementById(P.id), {
    type:'line',
    data:{datasets},
    options:{
      animation:false, responsive:false, devicePixelRatio:1,
      layout:{padding:{left:0,right:20,top:0,bottom:0}},
      plugins:{
        legend:{display:false}, tooltip:{enabled:false},
        title:{display:true, text:P.title, fullSize:false, color:'#1a1a1a',
               font:{family:'DejaVu Serif', size:16, weight:'normal'}, padding:{top:9.4,bottom:4.4}}
      },
      scales:{
        x:{type:'linear', min:0, max:2,
           afterBuildTicks:(s)=>{ s.ticks = X_TICKS.map(v=>({value:v})); },
           afterFit:(s)=>{ s.height = 48; },
           ticks:{font:tickFont, color:'#333', padding:8, maxRotation:0, autoSkip:false,
                  callback:(v,i)=>X_TICK_LABELS[i]},
           grid:{color:'#dfdfdf', drawTicks:false}, border:{display:false},
           title:{display:true, text:X_LABEL, color:'#333', font:{family:'DejaVu Serif', size:13}, padding:{top:0,bottom:1}}},
        y:{type:'linear', min:0, max:4.5,
           afterBuildTicks:(s)=>{ s.ticks = Y_TICKS.map(v=>({value:v})); },
           afterFit:(s)=>{ s.width = 63; },
           ticks:{font:tickFont, color:'#333', padding:10, autoSkip:false,
                  callback:(v,i)=>Y_TICK_LABELS[i]},
           grid:{color:'#dfdfdf', drawTicks:false}, border:{display:false},
           title:{display:true, text:Y_LABEL, color:'#333', font:{family:'DejaVu Serif', size:13}, padding:{top:11,bottom:0}}}
      }
    },
    plugins:[framePlugin]
  });
});
</script>
</body></html>
